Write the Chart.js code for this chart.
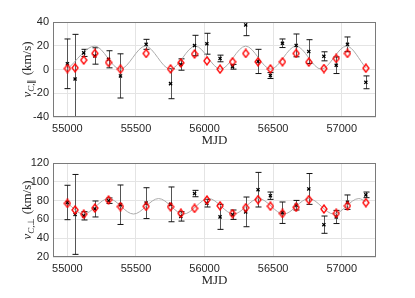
<!DOCTYPE html>
<html>
<head>
<meta charset="utf-8">
<script src="https://cdn.jsdelivr.net/npm/chart.js@4/dist/chart.umd.min.js"></script>
<style>
  html, body { margin: 0; padding: 0; background: #fff; }
  #wrap { position: relative; width: 415px; height: 298px; }
  canvas { position: absolute; left: 0; }
</style>
</head>
<body>
<div id="wrap">
  <canvas id="topChart" width="415" height="150" style="top:0px"></canvas>
  <canvas id="botChart" width="415" height="148" style="top:150px"></canvas>
</div>
<script>
// epochs (MJD) shared by both panels
const mjd = [55000, 55056, 55119, 55200, 55300, 55387, 55574, 55752, 55827, 55927, 56017, 56113,
             56204, 56300, 56390, 56480, 56568, 56668, 56760, 56870, 56960, 57042, 57176];

// parallel component
const parObs = [4.8, -8.0, 14.0, 11.4, 8.6, -5.4, 21.2, -11.9, 4.2, 20.2, 21.7, 9.3,
                2.3, 37.5, 6.8, -5.1, 22.1, 20.3, 15.1, 11.1, 3.6, 21.2, -10.8];
const parErr = [20.9, 37.6, 3.0, 6.9, 7.2, 18.6, 4.2, 12.7, 4.8, 8.6, 8.8, 2.8,
                2.0, 9.0, 10.2, 2.5, 3.6, 9.6, 10.0, 3.8, 7.0, 6.2, 5.4];
const parModel = [0.8, 1.4, 7.9, 13.5, 5.9, 0.3, 13.5, 0.5, 5.6, 13.0, 7.3, 0.3,
                  6.5, 13.5, 6.5, 0.5, 6.5, 13.5, 6.2, 0.8, 9.3, 13.5, 1.1];
// gray fit curve, read at its turning points
const parCurveX = [55000, 55200, 55385, 55568, 55750, 55933, 56117, 56300, 56483, 56667, 56850, 57035, 57176];
const parCurveY = [0.4, 19.7, 0.3, 19.7, 0.3, 19.7, 0.3, 19.7, 0.3, 19.7, 0.3, 19.7, 1.5];

// perpendicular component
const perpObs = [78.0, 65.3, 63.8, 71.1, 79.9, 75.6, 77.3, 76.0, 63.2, 87.5, 77.2, 62.7,
                 65.0, 68.0, 91.6, 85.2, 67.1, 75.1, 92.4, 54.4, 62.6, 78.3, 86.1];
const perpErr = [18.3, 42.5, 4.4, 8.5, 2.9, 21.0, 16.4, 18.5, 5.0, 3.4, 4.0, 13.3,
                 5.0, 15.8, 18.4, 3.9, 11.4, 5.1, 16.4, 9.2, 7.0, 7.7, 3.0];
const perpModel = [77.0, 70.0, 65.5, 72.0, 80.6, 73.6, 73.8, 73.4, 66.5, 71.7, 80.6, 74.4,
                   66.2, 72.4, 81.0, 74.0, 66.3, 72.8, 81.0, 71.0, 66.3, 74.4, 77.8];
const perpCurveX = [55000, 55117, 55300, 55482, 55665, 55847, 56030, 56212, 56395, 56577, 56760, 56942, 57125, 57176];
const perpCurveY = [77.0, 65.7, 82.2, 65.7, 82.2, 65.7, 82.2, 65.7, 82.2, 65.7, 82.2, 65.7, 82.2, 79.0];

// ticks
const xTicks = [55000, 55500, 56000, 56500, 57000];
const parTicks = [-40, -20, 0, 20, 40];
const perpTicks = [20, 40, 60, 80, 100, 120];

const tickFont = { family: "'Liberation Sans', Arial, sans-serif", size: 11 };
const serif = "'Liberation Serif', 'Times New Roman', serif";

// slightly tall hollow diamond marker, like matlab's 'd'
const diamond = document.createElement("canvas");
diamond.width = 8;
diamond.height = 10;
(function () {
  const c = diamond.getContext("2d");
  c.strokeStyle = "#ff0000";
  c.lineWidth = 1.3;
  c.beginPath();
  c.moveTo(4, 1); c.lineTo(7, 5); c.lineTo(4, 9); c.lineTo(1, 5); c.closePath();
  c.stroke();
})();

function pts(xs, ys) {
  return xs.map((x, i) => ({ x: x, y: ys[i] }));
}

function drawYLabel(ctx, area, sym) {
  const cx = area.left - 27;
  const cy = (area.top + area.bottom) / 2;
  const parts = [
    ["v", "italic 13px " + serif, 0],
    ["C", "italic 9px " + serif, 3],
    [",", "9px " + serif, 3],
    [sym, "9px " + serif, 3],
    [" (km/s)", "13px " + serif, 0]
  ];
  ctx.save();
  ctx.translate(cx, cy);
  ctx.rotate(-Math.PI / 2);
  ctx.fillStyle = "#262626";
  ctx.textBaseline = "alphabetic";
  let total = 0;
  parts.forEach(p => { ctx.font = p[1]; total += ctx.measureText(p[0]).width; });
  let x = -total / 2;
  parts.forEach(p => {
    ctx.font = p[1];
    ctx.fillText(p[0], x, 4.5 + p[2]);
    x += ctx.measureText(p[0]).width;
  });
  ctx.restore();
}

function makeChart(id, cfg) {
  const errPlugin = {
    id: "errbars",
    beforeDatasetsDraw(chart) {
      const ctx = chart.ctx, a = chart.chartArea;
      const xs = chart.scales.x, ys = chart.scales.y;
      ctx.save();
      ctx.beginPath();
      ctx.rect(a.left, a.top, a.right - a.left, a.bottom - a.top);
      ctx.clip();
      cfg.obs.forEach((v, i) => {
        const px = Math.round(xs.getPixelForValue(mjd[i])) + 0.5;
        const y1 = ys.getPixelForValue(v + cfg.err[i]);
        const y2 = ys.getPixelForValue(v - cfg.err[i]);
        ctx.strokeStyle = "#555";
        ctx.lineWidth = 1;
        ctx.beginPath();
        ctx.moveTo(px, y1);
        ctx.lineTo(px, y2);
        ctx.stroke();
        ctx.strokeStyle = "#111";
        ctx.beginPath();
        ctx.moveTo(px - 3, y1); ctx.lineTo(px + 3, y1);
        ctx.moveTo(px - 3, y2); ctx.lineTo(px + 3, y2);
        ctx.stroke();
      });
      ctx.restore();
    },
    afterDraw(chart) {
      const ctx = chart.ctx, a = chart.chartArea;
      ctx.save();
      ctx.strokeStyle = "#7a7a7a";
      ctx.lineWidth = 1;
      ctx.strokeRect(Math.round(a.left) + 0.5, Math.round(a.top) + 0.5,
                     Math.round(a.right - a.left) - 1, Math.round(a.bottom - a.top) - 1);
      ctx.fillStyle = "#262626";
      ctx.font = "13px " + serif;
      ctx.textAlign = "center";
      ctx.textBaseline = "middle";
      ctx.fillText("MJD", (a.left + a.right) / 2, a.bottom + 24);
      ctx.restore();
      drawYLabel(ctx, a, cfg.sym);
    }
  };

  return new Chart(document.getElementById(id), {
    type: "line",
    data: {
      datasets: [
        {
          label: "model",
          data: pts(mjd, cfg.model),
          showLine: false,
          pointStyle: diamond,
          pointRadius: 4,
          order: 0
        },
        {
          label: "observed",
          data: pts(mjd, cfg.obs),
          showLine: false,
          pointStyle: "crossRot",
          pointRadius: 2.2,
          borderColor: "#000",
          borderWidth: 1.3,
          order: 1
        },
        {
          label: "fit",
          data: pts(cfg.curveX, cfg.curveY),
          borderColor: "#ababab",
          borderWidth: 1,
          pointRadius: 0,
          cubicInterpolationMode: "monotone",
          fill: false,
          order: 2
        }
      ]
    },
    options: {
      responsive: false,
      animation: false,
      devicePixelRatio: 1,
      events: [],
      layout: { padding: { top: cfg.padTop, right: 39, left: 0, bottom: 0 } },
      plugins: { legend: { display: false }, tooltip: { enabled: false } },
      scales: {
        x: {
          type: "linear",
          min: 54895,
          max: 57250,
          afterBuildTicks: s => { s.ticks = xTicks.map(v => ({ value: v })); },
          afterFit: s => { s.height = cfg.xH; },
          grid: { color: "#e4e4e4", drawTicks: false },
          border: { display: false },
          ticks: { font: tickFont, color: "#262626", padding: 5, maxRotation: 0,
                   callback: v => String(v) }
        },
        y: {
          min: cfg.yMin,
          max: cfg.yMax,
          afterBuildTicks: s => { s.ticks = cfg.yTicks.map(v => ({ value: v })); },
          afterFit: s => { s.width = 53; },
          grid: { color: "#e4e4e4", drawTicks: false },
          border: { display: false },
          ticks: { font: tickFont, color: "#262626", padding: 4 }
        }
      }
    },
    plugins: [errPlugin]
  });
}

makeChart("topChart", {
  obs: parObs, err: parErr, model: parModel,
  curveX: parCurveX, curveY: parCurveY,
  yMin: -40, yMax: 40, yTicks: parTicks,
  padTop: 22, xH: 33, sym: "\u2225"
});

makeChart("botChart", {
  obs: perpObs, err: perpErr, model: perpModel,
  curveX: perpCurveX, curveY: perpCurveY,
  yMin: 20, yMax: 120, yTicks: perpTicks,
  padTop: 13, xH: 41, sym: "\u22A5"
});
</script>
</body>
</html>
